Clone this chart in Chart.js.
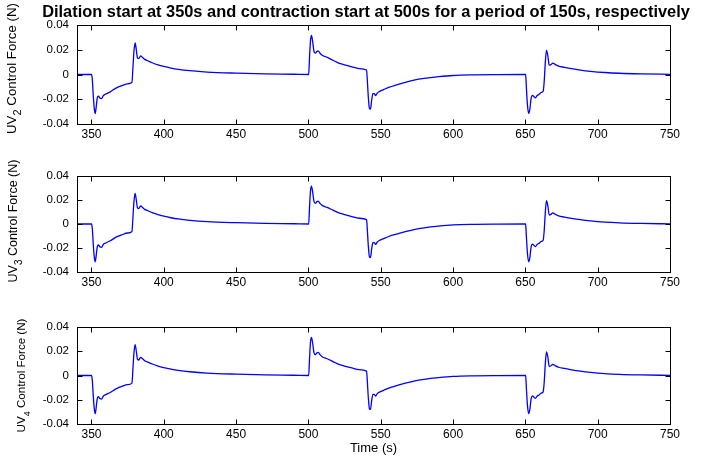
<!DOCTYPE html>
<html lang="en">
<head>
<meta charset="UTF-8">
<title>UV Control Force</title>
<script src="https://cdn.jsdelivr.net/npm/chart.js"></script>
<style>
  body { margin: 0; background: #fff; }
  #wrap { position: relative; width: 710px; height: 456px; }
  canvas { position: absolute; left: 0; }
</style>
</head>
<body>
<div id="wrap">
  <canvas id="c1" width="710" height="149" style="top:0px"></canvas>
  <canvas id="c2" width="710" height="157" style="top:140px"></canvas>
  <canvas id="c3" width="710" height="161" style="top:295px"></canvas>
</div>
<script>
// time (s) and control force (N)
const time = [340, 350, 350.6, 351.2, 352, 352.6, 353.2, 354, 354.8, 355.8, 357, 358.2, 359.5, 363, 367, 371, 375, 378,
  378.6, 379.4, 380.2, 381, 381.8, 382.7, 384, 385.3, 386.8, 388.5, 392, 396, 400, 405, 410, 418, 430, 450, 470, 490, 500.2,
  500.7, 501.4, 502.1, 502.9, 503.8, 504.8, 505.8, 506.8, 508, 509.5, 513, 517, 521, 525, 530, 535, 540.2,
  540.7, 541.4, 542.2, 542.9, 543.7, 544.6, 545.5, 546.5, 547.6, 549, 552, 556, 561, 567, 573, 580, 590, 600, 615, 630, 650.2,
  650.6, 651.4, 652.3, 653.1, 654, 655, 656, 657, 658, 659.5, 661, 662.3, 663, 663.8, 664.6, 665.5, 666.5, 667.7, 669, 670.5,
  673, 677, 682, 688, 695, 705, 715, 730, 750];

const uv2 = [0, 0, -0.004, -0.016, -0.028, -0.0315, -0.027, -0.019, -0.0175, -0.019, -0.0195, -0.017, -0.016, -0.014, -0.011, -0.009, -0.0075, -0.0063,
  0.004, 0.019, 0.0255, 0.02, 0.0135, 0.0128, 0.015, 0.0138, 0.0122, 0.0113, 0.0095, 0.0078, 0.0065, 0.0052, 0.0042, 0.0031, 0.002, 0.0011, 0.0005, 0.0002, 0,
  0.012, 0.027, 0.0315, 0.027, 0.019, 0.0172, 0.0185, 0.019, 0.0172, 0.0155, 0.0138, 0.0115, 0.0092, 0.0078, 0.0062, 0.0048, 0.0036,
  -0.004, -0.018, -0.0275, -0.028, -0.021, -0.0155, -0.0155, -0.017, -0.015, -0.0138, -0.0122, -0.0102, -0.0084, -0.0063, -0.0046, -0.0032, -0.0018, -0.0008, -0.0003, -0.0001, 0,
  -0.008, -0.024, -0.0315, -0.028, -0.019, -0.0168, -0.018, -0.0188, -0.0172, -0.016, -0.0145, -0.0135, -0.006, 0.01, 0.0195, 0.0155, 0.0075, 0.008, 0.0092, 0.0082,
  0.0068, 0.0058, 0.0047, 0.0036, 0.0026, 0.0016, 0.001, 0.0005, 0.0001];

const uv3 = [0, 0, -0.004, -0.016, -0.028, -0.0315, -0.027, -0.019, -0.0175, -0.019, -0.0195, -0.017, -0.016, -0.014, -0.011, -0.009, -0.0075, -0.0063,
  0.004, 0.019, 0.0255, 0.02, 0.0135, 0.0128, 0.015, 0.0138, 0.0122, 0.0113, 0.0095, 0.0078, 0.0065, 0.0052, 0.0042, 0.0031, 0.002, 0.0011, 0.0005, 0.0002, 0,
  0.012, 0.027, 0.0315, 0.027, 0.019, 0.0172, 0.0185, 0.019, 0.0172, 0.0155, 0.0138, 0.0115, 0.0092, 0.0078, 0.0062, 0.0048, 0.0036,
  -0.004, -0.018, -0.0275, -0.028, -0.021, -0.0155, -0.0155, -0.017, -0.015, -0.0138, -0.0122, -0.0102, -0.0084, -0.0063, -0.0046, -0.0032, -0.0018, -0.0008, -0.0003, -0.0001, 0,
  -0.008, -0.024, -0.0315, -0.028, -0.019, -0.0168, -0.018, -0.0188, -0.0172, -0.016, -0.0145, -0.0135, -0.006, 0.01, 0.0195, 0.0155, 0.0075, 0.008, 0.0092, 0.0082,
  0.0068, 0.0058, 0.0047, 0.0036, 0.0026, 0.0016, 0.001, 0.0005, 0.0001];

const uv4 = [0, 0, -0.004, -0.016, -0.028, -0.0315, -0.027, -0.019, -0.0175, -0.019, -0.0195, -0.017, -0.016, -0.014, -0.011, -0.009, -0.0075, -0.0063,
  0.004, 0.019, 0.0255, 0.02, 0.0135, 0.0128, 0.015, 0.0138, 0.0122, 0.0113, 0.0095, 0.0078, 0.0065, 0.0052, 0.0042, 0.0031, 0.002, 0.0011, 0.0005, 0.0002, 0,
  0.012, 0.027, 0.0315, 0.027, 0.019, 0.0172, 0.0185, 0.019, 0.0172, 0.0155, 0.0138, 0.0115, 0.0092, 0.0078, 0.0062, 0.0048, 0.0036,
  -0.004, -0.018, -0.0275, -0.028, -0.021, -0.0155, -0.0155, -0.017, -0.015, -0.0138, -0.0122, -0.0102, -0.0084, -0.0063, -0.0046, -0.0032, -0.0018, -0.0008, -0.0003, -0.0001, 0,
  -0.008, -0.024, -0.0315, -0.028, -0.019, -0.0168, -0.018, -0.0188, -0.0172, -0.016, -0.0145, -0.0135, -0.006, 0.01, 0.0195, 0.0155, 0.0075, 0.008, 0.0092, 0.0082,
  0.0068, 0.0058, 0.0047, 0.0036, 0.0026, 0.0016, 0.001, 0.0005, 0.0001];

const xTicks = [350, 400, 450, 500, 550, 600, 650, 700, 750];
const yTicks = [-0.04, -0.02, 0, 0.02, 0.04];
const yTickLabels = ['-0.04', '-0.02', '0', '0.02', '0.04'];

const FONT = "'Liberation Sans', Arial, sans-serif";

// box, inward ticks on all four sides, and the texts
const deco = {
  id: 'deco',
  afterDraw(chart, args, o) {
    const ctx = chart.ctx, a = chart.chartArea;
    const xs = chart.scales.x, ys = chart.scales.y;
    ctx.save();
    ctx.strokeStyle = '#000';
    ctx.lineWidth = 1;
    const L = Math.round(a.left) + 0.5, R = Math.round(a.right) + 0.5;
    const T = Math.round(a.top) + 0.5, B = Math.round(a.bottom) + 0.5;
    ctx.strokeRect(L, T, R - L, B - T);
    ctx.beginPath();
    xTicks.forEach(v => {
      const px = Math.round(xs.getPixelForValue(v)) + 0.5;
      ctx.moveTo(px, B); ctx.lineTo(px, B - 5);
      ctx.moveTo(px, T); ctx.lineTo(px, T + 5);
    });
    yTicks.forEach(v => {
      const py = Math.round(ys.getPixelForValue(v)) + 0.5;
      ctx.moveTo(L, py); ctx.lineTo(L + 5, py);
      ctx.moveTo(R, py); ctx.lineTo(R - 5, py);
    });
    ctx.stroke();

    ctx.fillStyle = '#000';
    if (o.title) {
      ctx.font = 'bold 16.4px ' + FONT;
      ctx.textAlign = 'center';
      ctx.textBaseline = 'middle';
      ctx.fillText(o.title, 366, 12);
    }
    if (o.xlab) {
      ctx.font = '13px ' + FONT;
      ctx.textAlign = 'center';
      ctx.textBaseline = 'middle';
      ctx.fillText(o.xlab, (a.left + a.right) / 2, a.bottom + 24);
    }
    // y label with subscript, rotated
    const fs = o.labSize;
    ctx.translate(o.labX, (a.top + a.bottom) / 2 + o.labDy);
    ctx.rotate(-Math.PI / 2);
    ctx.textBaseline = 'middle';
    ctx.textAlign = 'left';
    ctx.font = fs + 'px ' + FONT;
    const w1 = ctx.measureText('UV').width;
    const rest = ' Control Force (N)';
    const w3 = ctx.measureText(rest).width;
    ctx.font = Math.round(fs * 0.8) + 'px ' + FONT;
    const w2 = ctx.measureText(o.sub).width;
    let x0 = -(w1 + w2 + w3) / 2;
    ctx.font = fs + 'px ' + FONT;
    ctx.fillText('UV', x0, 0);
    ctx.font = Math.round(fs * 0.8) + 'px ' + FONT;
    ctx.fillText(o.sub, x0 + w1, fs * 0.45);
    ctx.font = fs + 'px ' + FONT;
    ctx.fillText(rest, x0 + w1 + w2, 0);
    ctx.restore();
  }
};

function makeChart(id, values, padTop, xAxisH, decoOpts) {
  const ctx = document.getElementById(id).getContext('2d');
  return new Chart(ctx, {
    type: 'line',
    data: {
      datasets: [{
        data: time.map((t, i) => ({ x: t, y: values[i] })),
        borderColor: '#0000ff',
        borderWidth: 1.3,
        pointRadius: 0,
        cubicInterpolationMode: 'monotone',
        fill: false
      }]
    },
    options: {
      responsive: false,
      animation: false,
      layout: { padding: { top: padTop, right: 40, left: 0, bottom: 0 } },
      plugins: {
        legend: { display: false },
        tooltip: { enabled: false },
        deco: decoOpts
      },
      scales: {
        x: {
          type: 'linear',
          min: 340, max: 750,
          afterBuildTicks: s => { s.ticks = xTicks.map(v => ({ value: v })); },
          afterFit: s => { s.height = xAxisH; },
          grid: { display: false, drawTicks: false, tickLength: 0 },
          border: { display: false },
          ticks: {
            padding: 3,
            maxRotation: 0,
            color: '#000',
            font: { family: FONT, size: 12 },
            callback: v => String(v)
          }
        },
        y: {
          min: -0.04, max: 0.04,
          afterBuildTicks: s => { s.ticks = yTicks.map(v => ({ value: v })); },
          afterFit: s => { s.width = 77; },
          grid: { display: false, drawTicks: false, tickLength: 0 },
          border: { display: false },
          ticks: {
            padding: 8,
            color: '#000',
            font: { family: FONT, size: 11.5 },
            callback: v => yTickLabels[yTicks.findIndex(t => Math.abs(t - v) < 1e-9)]
          }
        }
      }
    },
    plugins: [deco]
  });
}

makeChart('c1', uv2, 25, 25, {
  title: 'Dilation start at 350s and contraction start at 500s for a period of 150s, respectively',
  sub: '2', labX: 12, labDy: -6, labSize: 13.3
});
makeChart('c2', uv3, 36, 25, { sub: '3', labX: 14, labDy: -3, labSize: 12.5 });
makeChart('c3', uv4, 32, 32, { sub: '4', labX: 22, labDy: 0, labSize: 11.6, xlab: 'Time (s)' });
</script>
</body>
</html>
